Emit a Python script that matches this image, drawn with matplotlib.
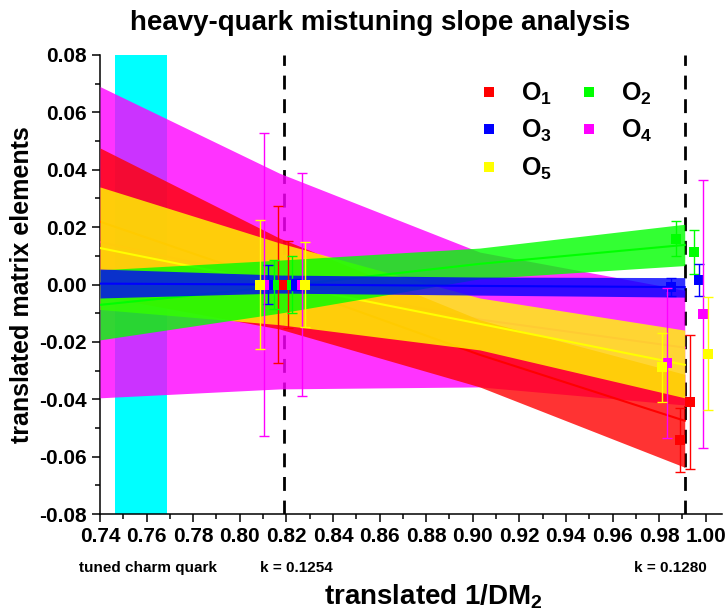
import matplotlib
matplotlib.use("Agg")
import matplotlib.pyplot as plt
from matplotlib.lines import Line2D
from matplotlib.ticker import MultipleLocator, FormatStrFormatter

plt.rcParams['font.family'] = ['Liberation Sans', 'DejaVu Sans']
plt.rcParams['font.weight'] = 'bold'
plt.rcParams['mathtext.fontset'] = 'custom'
plt.rcParams['mathtext.rm'] = 'Liberation Sans:bold'
plt.rcParams['mathtext.bf'] = 'Liberation Sans:bold'
plt.rcParams['mathtext.it'] = 'Liberation Sans:bold'

# operators and colours
ops = ["O1", "O2", "O3", "O4", "O5"]
labels = [r"$\mathbf{O}_{\mathbf{1}}$", r"$\mathbf{O}_{\mathbf{2}}$", r"$\mathbf{O}_{\mathbf{3}}$",
          r"$\mathbf{O}_{\mathbf{4}}$", r"$\mathbf{O}_{\mathbf{5}}$"]
colors = ["#FF0000", "#00FF00", "#0000FF", "#FF00FF", "#FFFF00"]

# fit bands, read at a few x positions
band_x = [0.74, 0.817, 0.903, 0.991]
band_upper = {
    "O1": [0.0476, 0.0162, -0.0123, -0.0313],
    "O2": [0.0051, 0.0085, 0.0127, 0.0210],
    "O3": [0.0054, 0.0033, 0.0026, 0.0024],
    "O4": [0.0690, 0.0388, 0.0113, -0.0020],
    "O5": [0.0340, 0.0145, -0.0047, -0.0159],
}
band_lower = {
    "O1": [-0.0040, -0.0155, -0.0357, -0.0637],
    "O2": [-0.0193, -0.0100, 0.0020, 0.0066],
    "O3": [-0.0047, -0.0030, -0.0037, -0.0044],
    "O4": [-0.0395, -0.0364, -0.0357, -0.0420],
    "O5": [-0.0087, -0.0140, -0.0228, -0.0395],
}
band_center = {
    "O1": [0.0219, 0.0005, -0.0245, -0.0475],
    "O2": [-0.0071, -0.0007, 0.0072, 0.0138],
    "O3": [0.0003, 0.0000, -0.0005, -0.0009],
    "O4": [0.0148, 0.0012, -0.0122, -0.0220],
    "O5": [0.0127, 0.0002, -0.0137, -0.0280],
}

# data points (two ensembles at each kappa)
pt_x = {
    "O1": [0.8166, 0.8205, 0.9890, 0.9932],
    "O2": [0.8145, 0.8226, 0.9872, 0.9949],
    "O3": [0.8123, 0.8243, 0.9850, 0.9970],
    "O4": [0.8102, 0.8265, 0.9833, 0.9988],
    "O5": [0.8085, 0.8282, 0.9812, 1.0010],
}
pt_y = {
    "O1": [0.0, 0.0, -0.0542, -0.0410],
    "O2": [0.0, 0.0, 0.0159, 0.0113],
    "O3": [0.0, 0.0, -0.0009, 0.0016],
    "O4": [0.0, 0.0, -0.0274, -0.0103],
    "O5": [0.0, 0.0, -0.0288, -0.0242],
}
pt_err = {
    "O1": [0.0275, 0.0153, 0.0113, 0.0234],
    "O2": [0.0086, 0.0101, 0.0061, 0.0078],
    "O3": [0.0067, 0.0020, 0.0030, 0.0056],
    "O4": [0.0527, 0.0388, 0.0262, 0.0467],
    "O5": [0.0226, 0.0147, 0.0120, 0.0197],
}

tuned_range = [0.7464, 0.7688]
kappa_x = [0.819, 0.991]

fig = plt.figure(figsize=(7.27, 6.16), dpi=100)
ax = fig.add_axes([100 / 727, 1 - 514 / 616, 622 / 727, 459 / 616])

ax.set_xlim(0.74, 1.007)
ax.set_ylim(-0.08, 0.08)

# tuned charm quark band
ax.axvspan(tuned_range[0], tuned_range[1], color="#00FFFF", zorder=1, lw=0)

# kappa lines
for kx in kappa_x:
    ax.axvline(kx, color="black", lw=2, ls=(0, (5, 3.5)), zorder=2)

# bands, draw order: O4, O1, O5, O2, O3
for op in ["O4", "O1", "O5", "O2", "O3"]:
    c = colors[ops.index(op)]
    ax.fill_between(band_x, band_lower[op], band_upper[op], color=c, alpha=0.8, lw=0, zorder=3)
    ax.plot(band_x, band_center[op], color=c, lw=1.5, zorder=3)

# points
for i, op in enumerate(ops):
    ax.errorbar(pt_x[op], pt_y[op], yerr=pt_err[op], fmt="none", ecolor=colors[i],
                elinewidth=1, capsize=3.5, capthick=1, zorder=5 + i)
    ax.plot(pt_x[op], pt_y[op], "s", color=colors[i], ms=7.5, mew=0, zorder=5 + i)

# legend, filled row by row: O1 O2 / O3 O4 / O5
handles = [Line2D([], [], marker="s", ls="", color=c, ms=7.5, mew=0) for c in colors]
order = [0, 2, 4, 1, 3]
leg = ax.legend([handles[k] for k in order], [labels[k] for k in order],
                loc="upper left", bbox_to_anchor=(0.569, 0.993), ncol=2,
                frameon=False, fontsize=18, handlelength=1.0, handletextpad=0.8,
                columnspacing=0.96, labelspacing=0.45)

# axes styling
for s in ["top", "right"]:
    ax.spines[s].set_visible(False)
for s in ["left", "bottom"]:
    ax.spines[s].set_linewidth(1.1)
ax.xaxis.set_major_locator(MultipleLocator(0.02))
ax.xaxis.set_minor_locator(MultipleLocator(0.01))
ax.yaxis.set_major_locator(MultipleLocator(0.02))
ax.yaxis.set_minor_locator(MultipleLocator(0.01))
ax.xaxis.set_major_formatter(FormatStrFormatter("%.2f"))
ax.yaxis.set_major_formatter(FormatStrFormatter("%.2f"))
ax.tick_params(which="major", direction="out", length=6, width=1.1, labelsize=15)
ax.tick_params(which="minor", direction="out", length=3.5, width=1.1)
ax.set_xticks([t / 100 for t in range(74, 101, 2)])
for lab in ax.get_xticklabels() + ax.get_yticklabels():
    lab.set_fontweight("bold")

ax.set_ylabel("translated matrix elements", fontsize=18, fontweight="bold", labelpad=4)

fig.text(0.523, 0.963, "heavy-quark mistuning slope analysis", ha="center", va="center",
         fontsize=20, fontweight="bold")
fig.text(433 / 727, 1 - 597 / 616, r"translated 1/DM$_{\mathbf{2}}$", ha="center", va="center",
         fontsize=20, fontweight="bold")
fig.text(148 / 727, 1 - 568 / 616, "tuned charm quark", ha="center", va="center", fontsize=11,
         fontweight="bold")
fig.text(296 / 727, 1 - 568 / 616, "k = 0.1254", ha="center", va="center", fontsize=11,
         fontweight="bold")
fig.text(670 / 727, 1 - 568 / 616, "k = 0.1280", ha="center", va="center", fontsize=11,
         fontweight="bold")

fig.savefig("out.png", dpi=100)
